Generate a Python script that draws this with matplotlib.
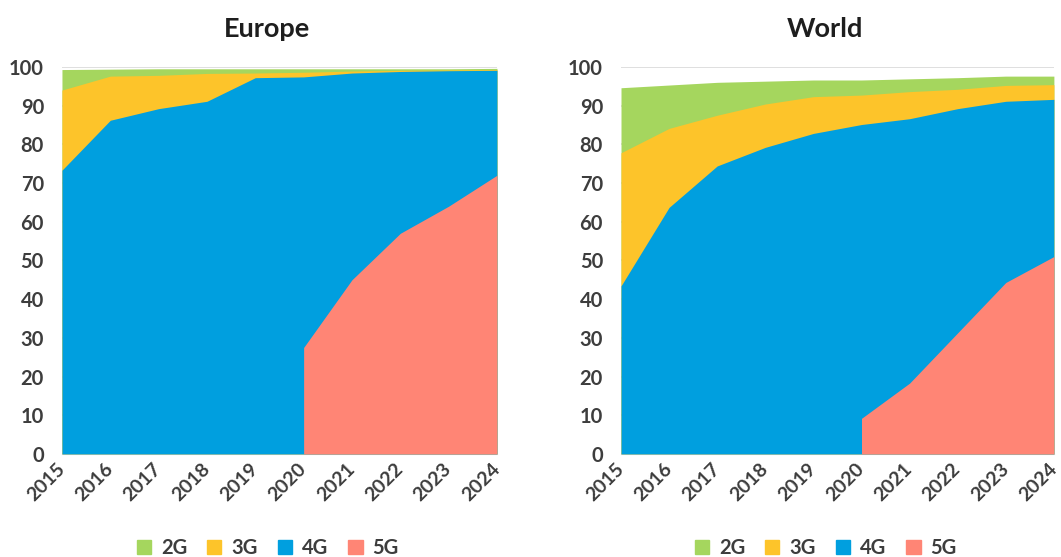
import numpy as np
import matplotlib.pyplot as plt
from matplotlib.patches import Patch

years = [2015, 2016, 2017, 2018, 2019, 2020, 2021, 2022, 2023, 2024]
labels = ['2G', '3G', '4G', '5G']
colors = ['#A5D65E', '#FDC42A', '#009FDF', '#FF8575']

# share of connections (%), nan = technology not yet present
eu_2g = [5.3, 1.8, 1.7, 1.2, 1.1, 0.9, 0.6, 0.4, 0.3, 0.3]
eu_3g = [20.7, 11.4, 8.6, 7.2, 1.2, 1.2, 0.5, 0.3, 0.2, 0.2]
eu_4g = [73.3, 86.2, 89.2, 91.1, 97.2, 69.9, 53.4, 41.8, 35.0, 27.1]
eu_5g = [np.nan, np.nan, np.nan, np.nan, np.nan, 27.5, 45.0, 57.0, 64.0, 72.0]

wd_2g = [16.8, 11.2, 8.5, 5.9, 4.3, 3.9, 3.3, 3.0, 2.4, 2.2]
wd_3g = [34.4, 20.4, 13.1, 11.2, 9.5, 7.6, 7.0, 5.0, 4.1, 3.8]
wd_4g = [43.4, 63.7, 74.4, 79.2, 82.8, 75.9, 68.3, 57.9, 46.8, 40.6]
wd_5g = [np.nan, np.nan, np.nan, np.nan, np.nan, 9.2, 18.3, 31.3, 44.3, 51.0]

plt.rcParams['font.family'] = ['Lato', 'DejaVu Sans']


def draw_panel(ax, title, g2, g3, g4, g5):
    x = np.array(years)
    g5 = np.array(g5, dtype=float)
    top5 = np.nan_to_num(g5)
    top4 = top5 + np.array(g4)
    top3 = top4 + np.array(g3)
    top2 = top3 + np.array(g2)
    # paint from back to front so 5G can start with a vertical edge
    ax.fill_between(x, 0, top2, color=colors[0], lw=0, zorder=2)
    ax.fill_between(x, 0, top3, color=colors[1], lw=0, zorder=3)
    ax.fill_between(x, 0, top4, color=colors[2], lw=0, zorder=4)
    ok = ~np.isnan(g5)
    ax.fill_between(x[ok], 0, g5[ok], color=colors[3], lw=0, zorder=5)

    ax.set_xlim(years[0], years[-1])
    ax.set_ylim(0, 100)
    ax.set_yticks(range(0, 101, 10))
    ax.set_xticks(years)
    ax.set_xticklabels([str(y) for y in years], rotation=45, ha='right',
                       va='center', rotation_mode='anchor')
    ax.tick_params(length=0, labelsize=14.5, labelcolor='#3d3d3d')
    ax.tick_params(axis='y', pad=13)
    ax.tick_params(axis='x', pad=9, labelsize=14)
    for lab in ax.get_xticklabels() + ax.get_yticklabels():
        lab.set_fontweight('bold')
    ax.grid(axis='y', color='#d9d9d9', lw=1.2, zorder=1)
    ax.set_axisbelow(True)
    for s in ['top', 'right', 'left']:
        ax.spines[s].set_visible(False)
    ax.spines['bottom'].set_color('#d9d9d9')
    ax.text(0.472, 1.098, title, transform=ax.transAxes, ha='center',
            va='center', fontsize=19.5, fontweight='bold', color='#1e1e1e')

    handles = [Patch(color=c, label=l) for c, l in zip(colors, labels)]
    ax.legend(handles=handles, loc='center', bbox_to_anchor=(0.473, -0.243),
              ncol=4, frameon=False, handlelength=0.7,
              handleheight=0.7, handletextpad=0.5, columnspacing=1.0,
              labelcolor='#3d3d3d', prop={'weight': 'bold', 'size': 14.5})


fig = plt.figure(figsize=(10.61, 5.57), dpi=100)
ax1 = fig.add_axes([0.0584, 0.185, 0.41, 0.695])
ax2 = fig.add_axes([0.5853, 0.185, 0.408, 0.695])

draw_panel(ax1, 'Europe', eu_2g, eu_3g, eu_4g, eu_5g)
draw_panel(ax2, 'World', wd_2g, wd_3g, wd_4g, wd_5g)

fig.savefig('out.png', dpi=100)
